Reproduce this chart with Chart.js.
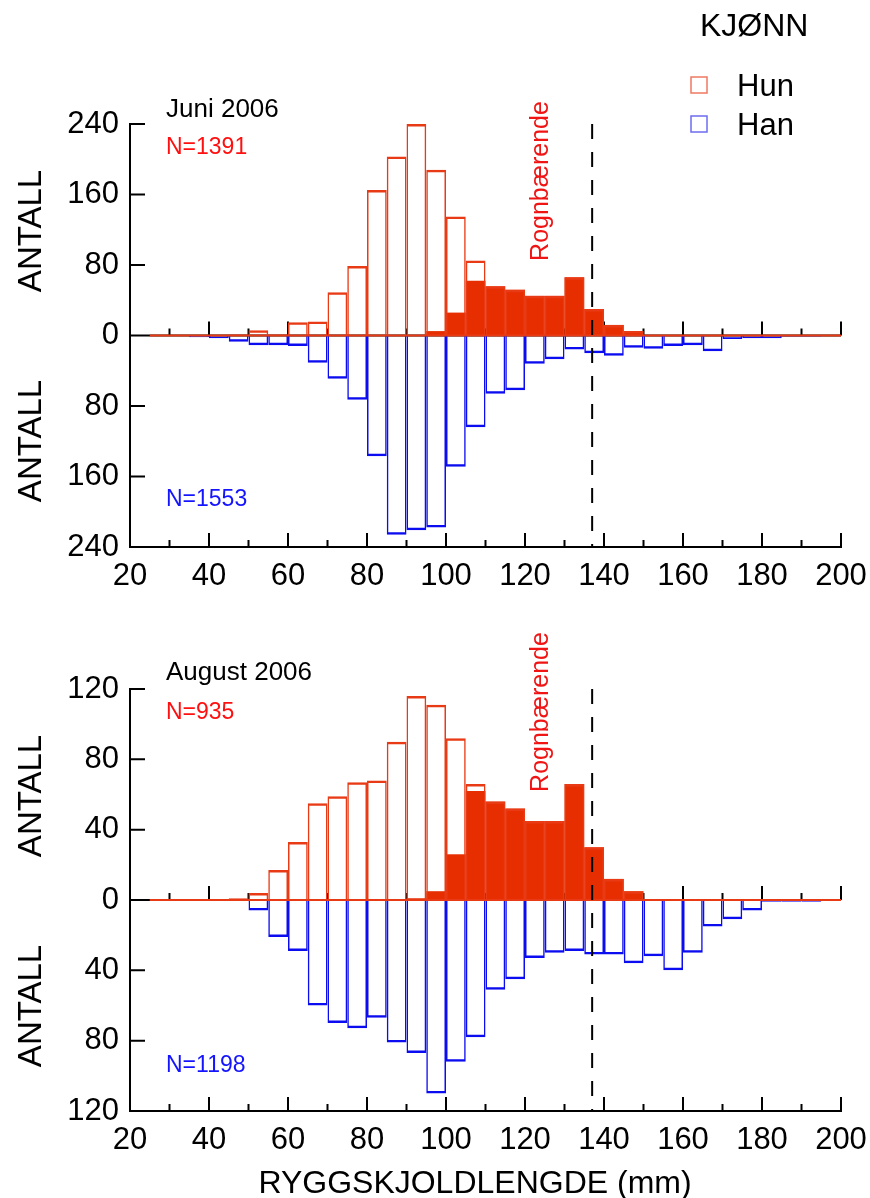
<!DOCTYPE html>
<html>
<head>
<meta charset="utf-8">
<script src="https://cdn.jsdelivr.net/npm/chart.js@4.4.0/dist/chart.umd.min.js"></script>
<style>
    html, body { margin: 0; padding: 0; background: #fff; }
    #wrap { position: relative; width: 870px; height: 1198px; }
    canvas { position: absolute; left: 0; }
    #juni { top: 0; }
    #aug { top: 600px; }
</style>
</head>
<body>
<div id="wrap">
    <canvas id="juni" width="870" height="600"></canvas>
    <canvas id="aug" width="870" height="598"></canvas>
</div>
<script>
// ---- Data (5 mm lengdeklasser, midtpunkt) ----
const lengder = [27.5, 32.5, 37.5, 42.5, 47.5, 52.5, 57.5, 62.5, 67.5, 72.5, 77.5, 82.5, 87.5, 92.5, 97.5,
    102.5, 107.5, 112.5, 117.5, 122.5, 127.5, 132.5, 137.5, 142.5, 147.5, 152.5, 157.5, 162.5, 167.5,
    172.5, 177.5, 182.5, 187.5, 192.5, 197.5];

// Juni 2006
const hunJuni  = [0, 0, 0, 0, 1, 6, 1, 15, 16, 49, 79, 165, 203, 240, 188, 135, 85, 56, 52, 45, 45, 66, 30, 12, 5, 0, 0, 0, 0, 0, 0, 0, 0, 0, 0];
const rognJuni = [0, 0, 0, 0, 0, 0, 0, 0, 0, 0, 0, 0, 0, 0, 5, 26, 62, 56, 52, 45, 45, 66, 30, 12, 5, 0, 0, 0, 0, 0, 0, 0, 0, 0, 0];
const hanJuni  = [0, 0, 2, 3, 7, 11, 11, 12, 31, 49, 73, 137, 226, 221, 218, 149, 104, 66, 62, 32, 27, 16, 20, 23, 14, 15, 12, 11, 18, 4, 3, 3, 1, 1, 0];

// August 2006
const hunAug  = [0, 0, 0, 0, 1, 4, 17, 33, 55, 59, 67, 68, 90, 116, 111, 92, 66, 56, 52, 45, 45, 66, 30, 12, 5, 0, 0, 0, 0, 0, 0, 0, 0, 0, 0];
const rognAug = [0, 0, 0, 0, 0, 0, 0, 0, 0, 0, 0, 0, 0, 1, 5, 26, 62, 56, 52, 45, 45, 66, 30, 12, 5, 0, 0, 0, 0, 0, 0, 0, 0, 0, 0];
const hanAug  = [0, 0, 0, 0, 0, 6, 21, 29, 60, 70, 73, 67, 81, 87, 110, 92, 78, 51, 45, 33, 30, 29, 31, 31, 36, 32, 40, 30, 15, 11, 6, 1, 1, 1, 0];

const xTicks = [20, 40, 60, 80, 100, 120, 140, 160, 180, 200];
const grenseLengde = 137;   // stiplet linje

const FONT = '"Liberation Sans", Arial, Helvetica, sans-serif';
const HUN_FARGE = '#e83a14';
const ROGN_FARGE = '#e62e00';
const HAN_FARGE = '#0c0cf0';

function punkter(verdier, fortegn) {
    return lengder.map((x, i) => ({ x: x, y: fortegn * verdier[i] }));
}

// Tegner akse-ticks innover, nullinje, stiplet linje og tekster
const panelTegning = {
    id: 'panelTegning',
    beforeDatasetsDraw(chart) {
        const { ctx, chartArea: a, scales: { x, y } } = chart;
        const y0 = y.getPixelForValue(0);
        ctx.save();
        ctx.strokeStyle = '#000';
        ctx.lineWidth = 2;
        ctx.beginPath();
        ctx.moveTo(a.left, y0);
        ctx.lineTo(a.right, y0);
        for (let v = x.min; v <= x.max; v += 10) {
            const px = x.getPixelForValue(v);
            const len = (v % 20 === 0) ? 14 : 7;
            ctx.moveTo(px, a.bottom);
            ctx.lineTo(px, a.bottom - len);
            ctx.moveTo(px, y0);
            ctx.lineTo(px, y0 - len);
        }
        y.ticks.forEach(t => {
            const py = y.getPixelForValue(t.value);
            ctx.moveTo(a.left, py);
            ctx.lineTo(a.left + 15, py);
        });
        ctx.stroke();
        ctx.restore();
    },
    afterDatasetsDraw(chart, args, opts) {
        const { ctx, chartArea: a, scales: { x, y } } = chart;
        const y0 = y.getPixelForValue(0);
        ctx.save();
        // rød grunnlinje for hunner
        ctx.strokeStyle = HUN_FARGE;
        ctx.lineWidth = 2;
        ctx.beginPath();
        ctx.moveTo(x.getPixelForValue(lengder[0] - 2.5), y0);
        ctx.lineTo(x.getPixelForValue(x.max), y0);
        ctx.stroke();

        // stiplet linje
        const gx = x.getPixelForValue(grenseLengde);
        ctx.strokeStyle = '#000';
        ctx.setLineDash([15, 13]);
        ctx.beginPath();
        ctx.moveTo(gx, a.top);
        ctx.lineTo(gx, a.bottom);
        ctx.stroke();
        ctx.setLineDash([]);

        // legend-ruter
        (opts.ruter || []).forEach(r => {
            ctx.strokeStyle = r.farge;
            ctx.lineWidth = 1.5;
            ctx.strokeRect(r.x, r.y, r.s, r.s);
        });

        // tekster
        (opts.tekster || []).forEach(t => {
            ctx.save();
            ctx.font = t.font + ' ' + FONT;
            ctx.fillStyle = t.farge || '#000';
            ctx.textAlign = t.align || 'left';
            ctx.textBaseline = t.baseline || 'alphabetic';
            ctx.translate(t.x, t.y);
            if (t.rot) ctx.rotate(t.rot);
            ctx.fillText(t.tekst, 0, 0);
            ctx.restore();
        });
        ctx.restore();
    }
};

function lagPanel(id, hun, rogn, han, yMax, yStep, bunnHoyde, toppPadding, tekster, ruter) {
    const canvas = document.getElementById(id);
    return new Chart(canvas.getContext('2d'), {
        type: 'bar',
        data: {
            datasets: [
                {
                    label: 'Hun',
                    data: punkter(hun, 1),
                    backgroundColor: 'rgba(0,0,0,0)',
                    borderColor: HUN_FARGE,
                    borderWidth: { top: 2.5, left: 1.5, right: 1.5, bottom: 0 },
                    grouped: false,
                    inflateAmount: 0,
                    order: 1
                },
                {
                    label: 'Rognbærende',
                    data: punkter(rogn, 1),
                    backgroundColor: ROGN_FARGE,
                    borderWidth: 0,
                    grouped: false,
                    inflateAmount: 0,
                    order: 2
                },
                {
                    label: 'Han',
                    data: punkter(han, -1),
                    backgroundColor: 'rgba(0,0,0,0)',
                    borderColor: HAN_FARGE,
                    borderWidth: { top: 0, left: 1.5, right: 1.5, bottom: 2.5 },
                    grouped: false,
                    inflateAmount: 0,
                    order: 3
                }
            ]
        },
        options: {
            responsive: false,
            animation: false,
            barPercentage: 1,
            categoryPercentage: 1,
            layout: { padding: { left: 0, right: 29, top: toppPadding, bottom: 0 } },
            plugins: {
                legend: { display: false },
                tooltip: { enabled: false },
                panelTegning: { tekster: tekster, ruter: ruter }
            },
            scales: {
                x: {
                    type: 'linear',
                    offset: false,
                    min: 20,
                    max: 200,
                    afterBuildTicks: (s) => { s.ticks = xTicks.map(v => ({ value: v })); },
                    afterFit: (s) => {
                        s.height = bunnHoyde;
                        s.paddingLeft = 0;
                        s.paddingRight = 0;
                    },
                    grid: { display: false, drawTicks: false },
                    border: { display: true, color: '#000', width: 2 },
                    ticks: { color: '#000', padding: 11, maxRotation: 0, font: { family: FONT, size: 31 } }
                },
                y: {
                    min: -yMax,
                    max: yMax,
                    afterFit: (s) => {
                        s.width = 130;
                        s.paddingTop = 0;
                        s.paddingBottom = 0;
                    },
                    grid: { display: false, drawTicks: false },
                    border: { display: true, color: '#000', width: 2 },
                    ticks: {
                        stepSize: yStep,
                        color: '#000',
                        padding: 11,
                        font: { family: FONT, size: 31 },
                        callback: (v) => Math.abs(v)
                    }
                }
            }
        },
        plugins: [panelTegning]
    });
}

const ROT = -Math.PI / 2;

lagPanel('juni', hunJuni, rognJuni, hanJuni, 240, 80, 53, 124, [
    { tekst: 'KJØNN', x: 700, y: 36, font: '32px' },
    { tekst: 'Hun', x: 737, y: 96, font: '31px' },
    { tekst: 'Han', x: 737, y: 135, font: '31px' },
    { tekst: 'Juni 2006', x: 166, y: 117, font: '26px' },
    { tekst: 'N=1391', x: 166, y: 154, font: '23px', farge: '#ff1010' },
    { tekst: 'N=1553', x: 166, y: 506, font: '23px', farge: '#1414ff' },
    { tekst: 'ANTALL', x: 41, y: 231, font: '33px', rot: ROT, align: 'center' },
    { tekst: 'ANTALL', x: 41, y: 441, font: '33px', rot: ROT, align: 'center' },
    { tekst: 'Rognbærende', x: 548, y: 181, font: '25px', rot: ROT, align: 'center', farge: '#f01414' }
], [
    { x: 691, y: 77, s: 16, farge: '#f07860' },
    { x: 691, y: 116, s: 16, farge: '#6c6cf0' }
]);

lagPanel('aug', hunAug, rognAug, hanAug, 120, 40, 87, 89, [
    { tekst: 'August 2006', x: 166, y: 80, font: '26px' },
    { tekst: 'N=935', x: 166, y: 119, font: '23px', farge: '#ff1010' },
    { tekst: 'N=1198', x: 166, y: 472, font: '23px', farge: '#1414ff' },
    { tekst: 'ANTALL', x: 41, y: 196, font: '33px', rot: ROT, align: 'center' },
    { tekst: 'ANTALL', x: 41, y: 406, font: '33px', rot: ROT, align: 'center' },
    { tekst: 'Rognbærende', x: 548, y: 112, font: '25px', rot: ROT, align: 'center', farge: '#f01414' },
    { tekst: 'RYGGSKJOLDLENGDE (mm)', x: 475, y: 593, font: '32px', align: 'center' }
], []);
</script>
</body>
</html>
